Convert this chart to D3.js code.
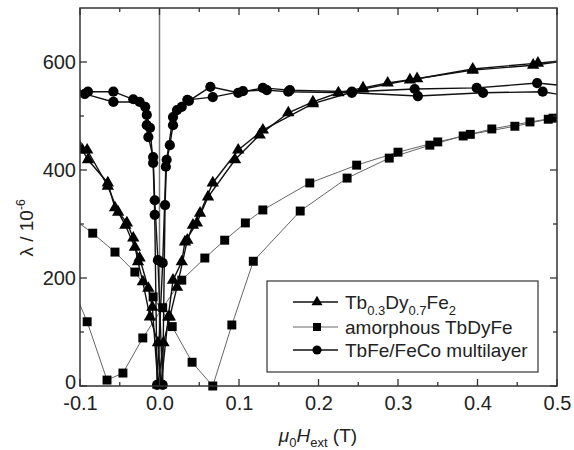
<!DOCTYPE html>
<html lang="en">
<head>
<meta charset="UTF-8">
<title>Magnetostriction vs field</title>
<script src="https://d3js.org/d3.v7.min.js"></script>
<style>
  body { margin: 0; background: #fff; }
  svg { display: block; font-family: "Liberation Sans", Arial, sans-serif; }
</style>
</head>
<body>
<svg id="chart" width="574" height="450"></svg>
<script>
// axis ticks
const xTicks = [-0.1, 0.0, 0.1, 0.2, 0.3, 0.4, 0.5];
const xMinor = [-0.05, 0.05, 0.15, 0.25, 0.35, 0.45];
const yTicks = [0, 200, 400, 600];
const yMinor = [100, 300, 500];

// Tb0.3Dy0.7Fe2 (field up / field down)
const terfUp = [[-0.105,455],[-0.097,437],[-0.090,419],[-0.065,376],[-0.056,330],[-0.041,302],[-0.033,274],[-0.027,230],[-0.021,193],[-0.012,128],[-0.002,80],[0.002,2],[0.011,128],[0.017,196],[0.028,230],[0.032,267],[0.047,302],[0.061,350],[0.095,419],[0.126,465],[0.162,506],[0.193,526],[0.225,543],[0.256,552],[0.287,561],[0.324,569],[0.394,587],[0.476,598],[0.51,603]];
const terfDown = [[0.51,602],[0.470,594],[0.394,585],[0.315,567],[0.256,550],[0.193,523],[0.130,474],[0.099,437],[0.067,376],[0.051,320],[0.042,298],[0.035,270],[0.022,183],[0.013,128],[0.005,80],[-0.002,2],[-0.009,146],[-0.014,181],[-0.025,237],[-0.031,257],[-0.043,298],[-0.052,322],[-0.065,370],[-0.091,437],[-0.105,452]];

// amorphous TbDyFe
const amorUp = [[-0.11,311],[-0.084,283],[-0.056,248],[-0.031,211],[-0.008,165],[0.016,110],[0.041,44],[0.067,0],[0.091,113],[0.118,231],[0.177,324],[0.236,385],[0.289,422],[0.340,446],[0.382,463],[0.418,476],[0.466,489],[0.495,496],[0.51,499]];
const amorDown = [[0.51,501],[0.489,494],[0.447,481],[0.391,466],[0.350,452],[0.300,433],[0.248,409],[0.189,376],[0.130,326],[0.108,302],[0.082,270],[0.057,237],[0.028,196],[0.004,145],[-0.021,89],[-0.046,24],[-0.066,11],[-0.091,119],[-0.11,185]];

// TbFe/FeCo multilayer
const multiUp = [[-0.105,545],[-0.090,545],[-0.058,545],[-0.033,531],[-0.018,517],[-0.016,483],[-0.014,461],[-0.008,424],[-0.006,344],[-0.002,233],[0.004,2],[0.007,335],[0.009,419],[0.017,498],[0.028,517],[0.037,528],[0.064,554],[0.099,543],[0.130,552],[0.164,548],[0.242,545],[0.321,550],[0.399,552],[0.475,561],[0.51,556]];
const multiDown = [[0.51,538],[0.482,545],[0.407,543],[0.325,537],[0.242,543],[0.162,545],[0.135,548],[0.105,546],[0.067,535],[0.035,530],[0.022,511],[0.017,483],[0.013,446],[0.008,406],[0.004,228],[-0.003,2],[-0.006,317],[-0.008,413],[-0.012,478],[-0.016,502],[-0.025,526],[-0.058,526],[-0.094,541],[-0.105,542]];

const svg = d3.select("#chart");
const x = d3.scaleLinear().domain([-0.1, 0.5]).range([80, 557]);
const y = d3.scaleLinear().domain([0, 700]).range([386, 8]);

const series = [
  { branches: [amorUp, amorDown], symbol: d3.symbolSquare, size: 80, line: "#666", lw: 1 },
  { branches: [terfUp, terfDown], symbol: d3.symbolTriangle, size: 66, line: "#111", lw: 1.4 },
  { branches: [multiUp, multiDown], symbol: d3.symbolCircle, size: 82, line: "#111", lw: 1.4 }
];

svg.append("clipPath").attr("id", "clip")
  .append("rect").attr("x", 80).attr("y", 0).attr("width", 477).attr("height", 450);

// zero field line
svg.append("line")
  .attr("x1", x(0)).attr("x2", x(0)).attr("y1", y(700)).attr("y2", y(0))
  .attr("stroke", "#777").attr("stroke-width", 1.5);

const plot = svg.append("g").attr("clip-path", "url(#clip)");
const line = d3.line().x(d => x(d[0])).y(d => y(d[1]));

series.forEach(s => {
  s.branches.forEach(b => {
    plot.append("path").datum(b)
      .attr("d", line).attr("fill", "none")
      .attr("stroke", s.line).attr("stroke-width", s.lw);
  });
});
series.forEach(s => {
  s.branches.forEach(b => {
    plot.selectAll(null).data(b).enter().append("path")
      .attr("d", d3.symbol().type(s.symbol).size(s.size))
      .attr("transform", d => `translate(${x(d[0])},${y(d[1])})`)
      .attr("fill", "#000");
  });
});

// frame and inward ticks
svg.append("rect")
  .attr("x", 80).attr("y", 8).attr("width", 477).attr("height", 378)
  .attr("fill", "none").attr("stroke", "#333").attr("stroke-width", 1.5);

const tickG = svg.append("g").attr("stroke", "#333").attr("stroke-width", 1.3);
function xTick(v, len) {
  tickG.append("line").attr("x1", x(v)).attr("x2", x(v)).attr("y1", 386).attr("y2", 386 - len);
  tickG.append("line").attr("x1", x(v)).attr("x2", x(v)).attr("y1", 8).attr("y2", 8 + len);
}
function yTick(v, len) {
  tickG.append("line").attr("y1", y(v)).attr("y2", y(v)).attr("x1", 80).attr("x2", 80 + len);
  tickG.append("line").attr("y1", y(v)).attr("y2", y(v)).attr("x1", 557).attr("x2", 557 - len);
}
xTicks.forEach(v => xTick(v, 7));
xMinor.forEach(v => xTick(v, 4));
yTicks.forEach(v => yTick(v, 7));
yMinor.forEach(v => yTick(v, 4));

// tick labels
const xAxis = svg.append("g").attr("transform", "translate(0,386)")
  .call(d3.axisBottom(x).tickValues(xTicks).tickFormat(d => d.toFixed(1)).tickSize(0).tickPadding(10));
const yAxis = svg.append("g").attr("transform", "translate(80,0)")
  .call(d3.axisLeft(y).tickValues(yTicks).tickSize(0).tickPadding(4));
[xAxis, yAxis].forEach(a => {
  a.select(".domain").remove();
  a.selectAll("text").attr("font-size", 20).attr("fill", "#222")
    .attr("font-family", "'Liberation Sans', Arial, sans-serif");
});
// keep the "0" label clear of "-0.1"
yAxis.selectAll(".tick").filter(d => d === 0).select("text").attr("dy", "0.1em");

// axis titles
const yt = svg.append("text").attr("transform", "translate(33,228) rotate(-90)")
  .attr("text-anchor", "middle").attr("font-size", 19).attr("fill", "#222");
yt.append("tspan").text("λ / 10");
yt.append("tspan").attr("dy", -8).attr("font-size", 12).text("-6");

const xt = svg.append("text").attr("x", 318).attr("y", 442)
  .attr("text-anchor", "middle").attr("font-size", 19).attr("fill", "#222");
xt.append("tspan").attr("font-style", "italic").text("μ");
xt.append("tspan").attr("dy", 5).attr("font-size", 13).text("0");
xt.append("tspan").attr("dy", -5).attr("font-style", "italic").text("H");
xt.append("tspan").attr("dy", 5).attr("font-size", 13).text("ext");
xt.append("tspan").attr("dy", -5).text(" (T)");

// legend
const lg = svg.append("g");
lg.append("rect").attr("x", 267).attr("y", 281).attr("width", 271).attr("height", 91)
  .attr("fill", "#fff").attr("stroke", "#333").attr("stroke-width", 1.2);
const legendRows = [
  { s: series[1], y: 302, parts: [["Tb", 0], ["0.3", 1], ["Dy", 0], ["0.7", 1], ["Fe", 0], ["2", 1]] },
  { s: series[0], y: 327, parts: [["amorphous TbDyFe", 0]] },
  { s: series[2], y: 350, parts: [["TbFe/FeCo multilayer", 0]] }
];
legendRows.forEach(r => {
  lg.append("line").attr("x1", 293).attr("x2", 338).attr("y1", r.y).attr("y2", r.y)
    .attr("stroke", r.s.line).attr("stroke-width", r.s.lw);
  lg.append("path").attr("d", d3.symbol().type(r.s.symbol).size(r.s.size * 0.8))
    .attr("transform", `translate(317,${r.y})`).attr("fill", "#000");
  const t = lg.append("text").attr("x", 345).attr("y", r.y + 7)
    .attr("font-size", 19).attr("fill", "#222");
  let sub = 0;
  r.parts.forEach(([txt, isSub]) => {
    const dy = (isSub ? 6 : 0) - sub;
    t.append("tspan").attr("dy", dy).attr("font-size", isSub ? 13 : 19).text(txt);
    sub = isSub ? 6 : 0;
  });
});
</script>
</body>
</html>
